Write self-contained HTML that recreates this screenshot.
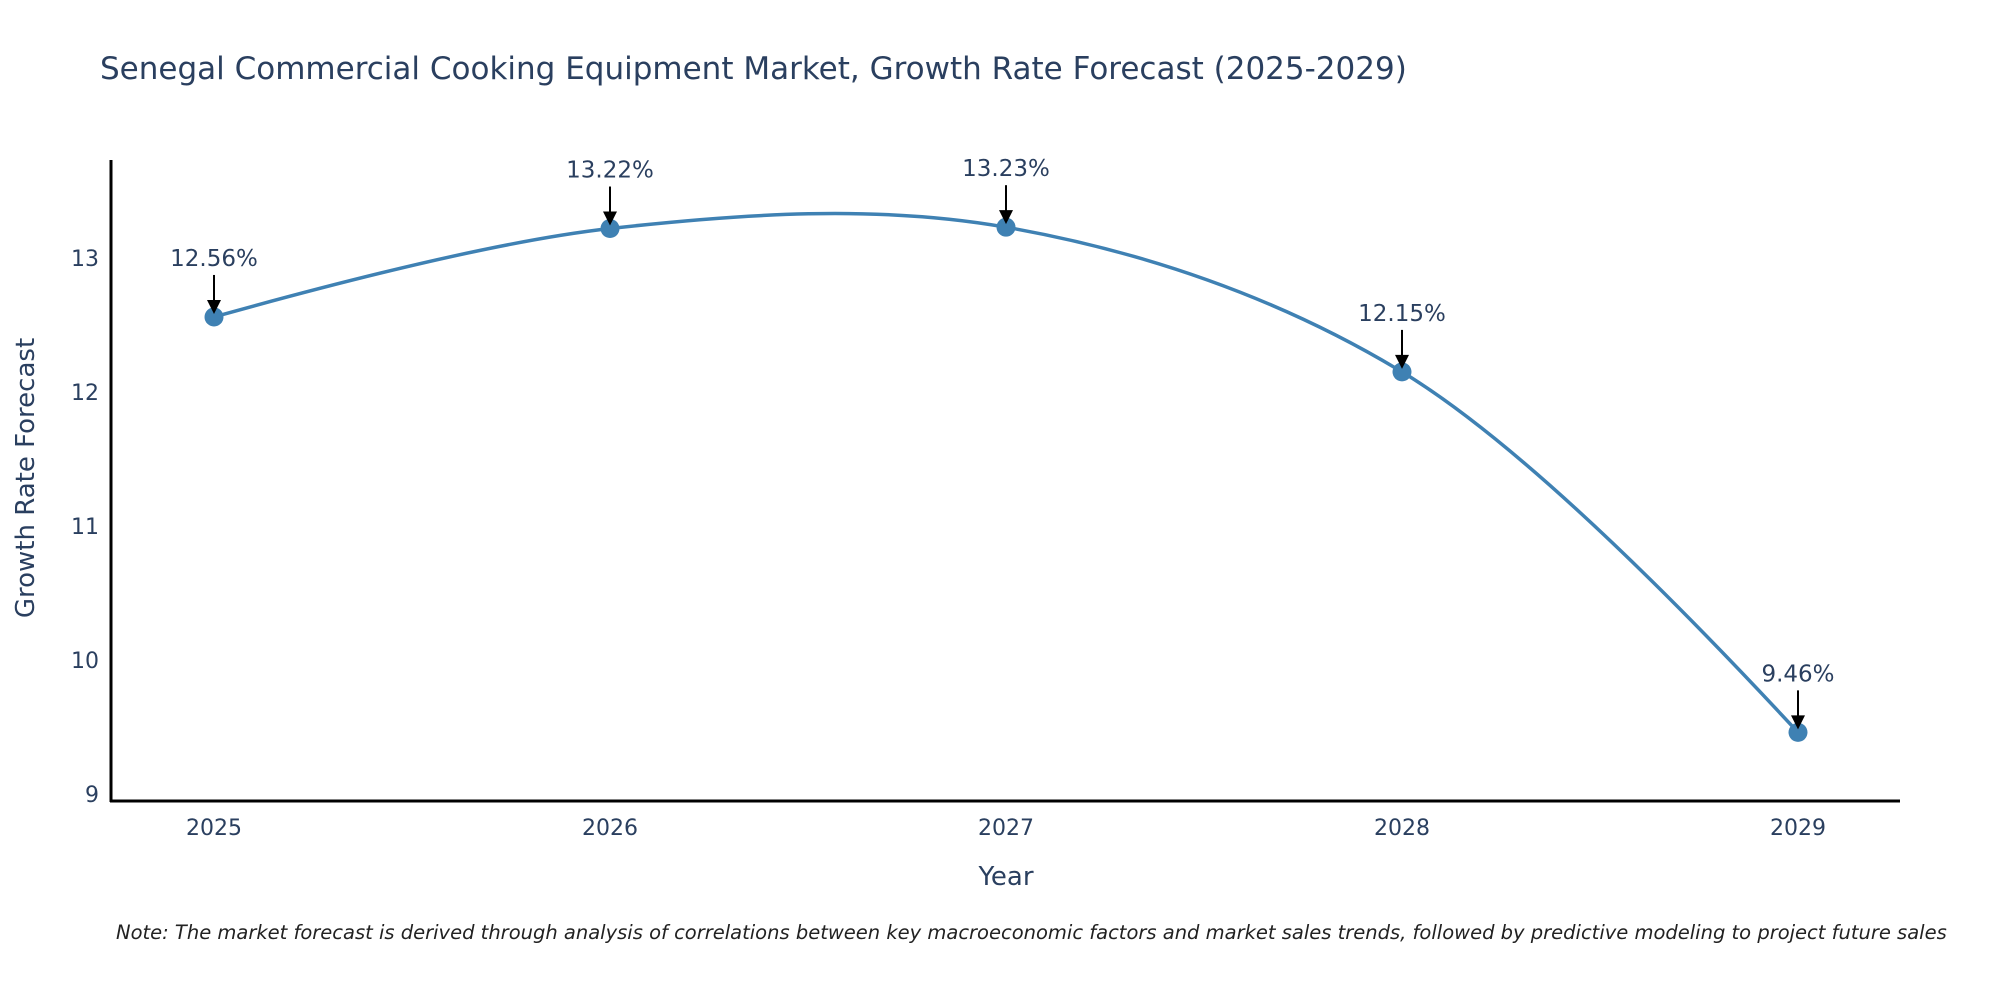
<!DOCTYPE html>
<html><head><meta charset="utf-8"><style>
body{margin:0;background:#fff}
svg{display:block;font-family:"DejaVu Sans","Liberation Sans",sans-serif}
</style></head><body>
<svg id="chart" width="2000" height="1000" viewBox="0 0 2000 1000">
<text x="100" y="79" font-size="31" fill="#2a3f5f">Senegal Commercial Cooking Equipment Market, Growth Rate Forecast (2025-2029)</text>
<g id="yticks"></g>
<g id="xticks"></g>
<line x1="111" y1="160" x2="111" y2="802" stroke="#000" stroke-width="3"/>
<line x1="110" y1="801" x2="1900" y2="801" stroke="#000" stroke-width="3"/>
<path id="line" fill="none" stroke="#3f81b3" stroke-width="3.5"/>
<g id="points"></g>
<g id="annots"></g>
<text x="1006" y="885" font-size="26" fill="#2a3f5f" text-anchor="middle">Year</text>
<text transform="translate(34,478) rotate(-90)" font-size="26" fill="#2a3f5f" text-anchor="middle">Growth Rate Forecast</text>
<text x="116" y="939" font-size="19.5" font-style="italic" fill="#222">Note: The market forecast is derived through analysis of correlations between key macroeconomic factors and market sales trends, followed by predictive modeling to project future sales</text>
</svg>
<script>
const years = [2025, 2026, 2027, 2028, 2029];
const growth = [12.56, 13.22, 13.23, 12.15, 9.46];
const labels = ["12.56%", "13.22%", "13.23%", "12.15%", "9.46%"];
const yTicks = [9, 10, 11, 12, 13];

const NS = "http://www.w3.org/2000/svg";
const x = v => 214 + (v - 2025) * 396;
const y = v => 794 - (v - 9) * 134;
function mk(tag, attrs, parent, text){const e=document.createElementNS(NS,tag);for(const k in attrs)e.setAttribute(k,attrs[k]);if(text!==undefined)e.textContent=text;parent.appendChild(e);return e;}

const yt = document.getElementById('yticks');
yTicks.forEach(t => {
  const e = mk('text', {x: 99, y: y(t) + 8, 'font-size': 22, fill: '#2a3f5f', 'text-anchor': 'end'}, yt, String(t));
  
  
});
const xt = document.getElementById('xticks');
years.forEach(v => {
  const e = mk('text', {x: x(v), y: 835, 'font-size': 22, fill: '#2a3f5f', 'text-anchor': 'middle'}, xt, String(v));
  
  
});

const P = years.map((v, i) => [x(v), y(growth[i])]);
function tangent(a, b, c, s) {
  const d1x = a[0]-b[0], d1y = a[1]-b[1], d2x = c[0]-b[0], d2y = c[1]-b[1];
  const d1a = Math.pow(d1x*d1x + d1y*d1y, 0.25), d2a = Math.pow(d2x*d2x + d2y*d2y, 0.25);
  const nx = (d2a*d2a*d1x - d1a*d1a*d2x) * s, ny = (d2a*d2a*d1y - d1a*d1a*d2y) * s;
  const den1 = 3*d2a*(d1a+d2a), den2 = 3*d1a*(d1a+d2a);
  return [[b[0] + nx/den1, b[1] + ny/den1], [b[0] - nx/den2, b[1] - ny/den2]];
}
const T = [];
for (let i = 1; i < P.length - 1; i++) T.push(tangent(P[i-1], P[i], P[i+1], 1));
let d = `M${P[0]}Q${T[0][0]} ${P[1]}`;
for (let i = 1; i < P.length - 2; i++) d += `C${T[i-1][1]} ${T[i][0]} ${P[i+1]}`;
d += `Q${T[T.length-1][1]} ${P[P.length-1]}`;
document.getElementById('line').setAttribute('d', d);

const pts = document.getElementById('points');
const an = document.getElementById('annots');
P.forEach((p, i) => {
  const c = mk('circle', {cx: p[0], cy: p[1], r: 9.5, fill: '#3f81b3'}, pts);
  
  
  const l = mk('line', {x1: p[0], y1: p[1] - 42, x2: p[0], y2: p[1] - 14, stroke: '#000', 'stroke-width': 2}, an);
  
  
  const h = mk('polygon', {points: `${p[0]-7},${p[1]-17} ${p[0]+7},${p[1]-17} ${p[0]},${p[1]-3}`, fill: '#000'}, an);
  
  
  const t = mk('text', {x: p[0], y: p[1] - 51, 'font-size': 23, fill: '#2a3f5f', 'text-anchor': 'middle'}, an, labels[i]);
  
  
});
</script>
</body></html>
